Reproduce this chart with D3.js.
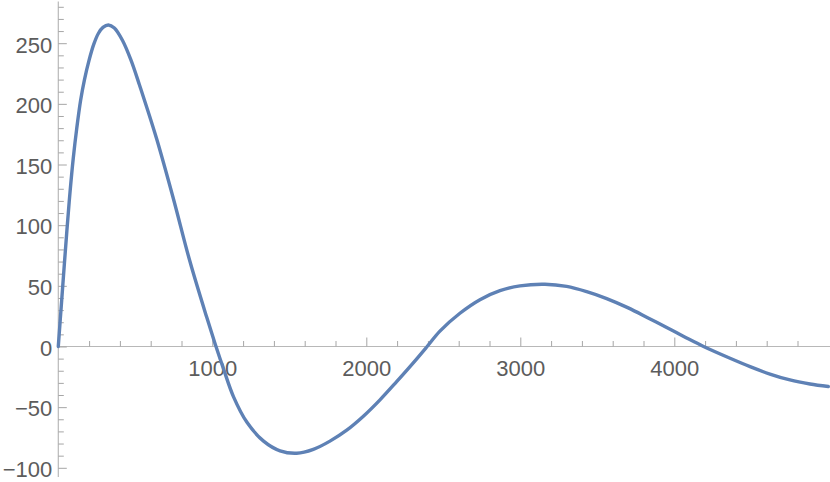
<!DOCTYPE html>
<html>
<head>
<meta charset="utf-8">
<script src="https://cdn.jsdelivr.net/npm/d3@7"></script>
<style>
  html, body { margin: 0; padding: 0; background: #ffffff; }
  svg { display: block; }
</style>
</head>
<body>
<div id="chart"></div>
<script>
// ---- data ----
const xValues = [0, 10, 22, 56, 76, 97, 120, 145, 170, 200, 230, 260, 290, 325, 364, 418, 472, 526, 580, 639, 747, 855, 964, 1024, 1073, 1138, 1225, 1333, 1440, 1548, 1656, 1764, 1873, 1981, 2089, 2197, 2305, 2395, 2478, 2608, 2738, 2868, 2998, 3160, 3301, 3431, 3561, 3701, 3830, 3960, 4080, 4190, 4362, 4492, 4621, 4751, 4881, 5000];
const yValues = [0, 17.5, 38, 96, 127, 155, 180, 203, 220, 236, 249, 258, 263, 265, 262.5, 252, 236, 216, 195, 171, 122, 70, 24, 0, -18.5, -41.5, -62.5, -78, -86, -88, -84.8, -78, -69, -57.5, -44, -29, -13.5, 0, 12.7, 27.4, 38.6, 46, 50, 51.3, 49.5, 45.2, 39.5, 31.8, 23.5, 15, 7, 0, -9.7, -16.6, -22.7, -27.6, -30.9, -33];

const xMajorTicks = [1000, 2000, 3000, 4000];
const xMinorTicks = [200, 400, 600, 800, 1200, 1400, 1600, 1800, 2200, 2400, 2600, 2800, 3200, 3400, 3600, 3800, 4200, 4400, 4600, 4800];
const yMajorTicks = [-100, -50, 0, 50, 100, 150, 200, 250];
const yMinorTicks = [-90, -80, -70, -60, -40, -30, -20, -10, 10, 20, 30, 40, 60, 70, 80, 90, 110, 120, 130, 140, 160, 170, 180, 190, 210, 220, 230, 240, 260, 270, 280];

// ---- layout ----
const W = 830, H = 482;
const x0 = 58.3, y0 = 346.5;
const FONT = "'Liberation Sans', Arial, Helvetica, sans-serif";

const svg = d3.select("#chart").append("svg")
  .attr("width", W).attr("height", H);

const x = d3.scaleLinear().domain([0, 5000]).range([x0, 828.3]);
const y = d3.scaleLinear().domain([-100, 250]).range([467.8, 43.2]);

// axis lines
svg.append("line")
  .attr("x1", x0).attr("x2", W).attr("y1", y0).attr("y2", y0)
  .attr("stroke", "#b8b8b8").attr("stroke-width", 1.2);
svg.append("line")
  .attr("x1", x0).attr("x2", x0).attr("y1", 1.5).attr("y2", 477)
  .attr("stroke", "#b8b8b8").attr("stroke-width", 1.2);

function styleAxis(g) {
  g.select(".domain").remove();
  g.selectAll(".tick line").attr("stroke", "#a6a6a6").attr("stroke-width", 1);
  g.selectAll(".tick text")
    .attr("fill", "#5c5c5c")
    .style("font-family", FONT)
    .style("font-size", "22px");
}

// x minor ticks
svg.append("g").attr("transform", `translate(0,${y0})`)
  .call(d3.axisBottom(x).tickValues(xMinorTicks).tickSize(-5.5).tickFormat(""))
  .call(styleAxis);
// x major ticks + labels
svg.append("g").attr("transform", `translate(0,${y0})`)
  .call(d3.axisBottom(x).tickValues(xMajorTicks).tickSize(-9).tickPadding(13.5).tickFormat(d3.format("d")))
  .call(styleAxis);

// y minor ticks
svg.append("g").attr("transform", `translate(${x0},0)`)
  .call(d3.axisLeft(y).tickValues(yMinorTicks).tickSize(-5.5).tickFormat(""))
  .call(styleAxis);
// y major ticks + labels
const yg = svg.append("g").attr("transform", `translate(${x0},0)`)
  .call(d3.axisLeft(y).tickValues(yMajorTicks).tickSize(-8.5).tickPadding(6)
    .tickFormat(d => d < 0 ? "\u2212" + Math.abs(d) : String(d)))
  .call(styleAxis);
yg.selectAll(".tick text").attr("dy", "0.4em");

// curve
const pts = xValues.map((v, i) => [v, yValues[i]]);
svg.append("path")
  .datum(pts)
  .attr("fill", "none")
  .attr("stroke", "#5E81B5")
  .attr("stroke-width", 3.4)
  .attr("stroke-linejoin", "round")
  .attr("stroke-linecap", "round")
  .attr("d", d3.line().x(d => x(d[0])).y(d => y(d[1])).curve(d3.curveCatmullRom.alpha(0.5)));
</script>
</body>
</html>
